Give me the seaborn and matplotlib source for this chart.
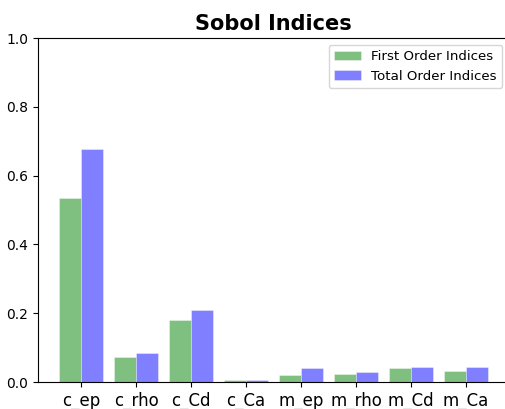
import matplotlib
matplotlib.use("Agg")
import matplotlib.pyplot as plt
import seaborn as sns
import pandas as pd

parameters = ["c_ep", "c_rho", "c_Cd", "c_Ca", "m_ep", "m_rho", "m_Cd", "m_Ca"]
first_order = [0.535, 0.074, 0.181, 0.005, 0.020, 0.023, 0.041, 0.031]
total_order = [0.676, 0.085, 0.209, 0.005, 0.041, 0.028, 0.045, 0.045]
series_names = ["First Order Indices", "Total Order Indices"]
y_ticks = [0.0, 0.2, 0.4, 0.6, 0.8, 1.0]

df = pd.DataFrame({
    "parameter": parameters * 2,
    "index": first_order + total_order,
    "kind": [series_names[0]] * len(parameters) + [series_names[1]] * len(parameters),
})

fig = plt.figure(figsize=(5.06, 4.09), dpi=100)
ax = fig.add_axes([38 / 506, 27 / 409, 471 / 506, 344 / 409])

sns.barplot(
    data=df, x="parameter", y="index", hue="kind",
    palette=["green", "blue"], saturation=1, alpha=0.5,
    width=0.8, edgecolor="white", linewidth=0.5, ax=ax,
)

ax.set_xlim(-0.785, 7.785)
ax.set_ylim(0, 1.0)
ax.set_yticks(y_ticks)
ax.set_yticklabels([f"{t:.1f}" for t in y_ticks], fontsize=10)
ax.tick_params(axis="x", labelsize=12)
ax.set_xlabel("")
ax.set_ylabel("")
ax.set_title("Sobol Indices", fontsize=15, fontweight="bold")
for side in ["top", "bottom", "left", "right"]:
    ax.spines[side].set_visible(True)
    ax.spines[side].set_color("black")
ax.legend(loc="upper right", fontsize=9.6)

fig.savefig("out.png", dpi=100)
